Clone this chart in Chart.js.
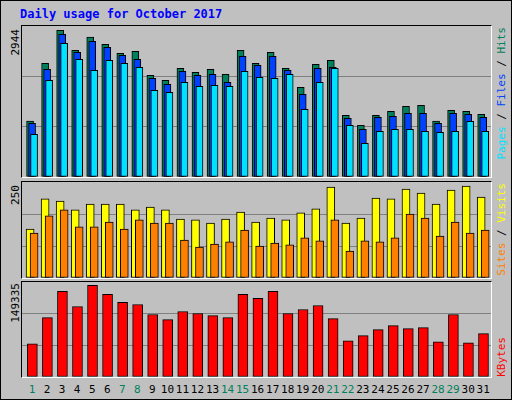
<!DOCTYPE html>
<html lang="en">
<head>
<meta charset="UTF-8">
<title>Daily usage for October 2017</title>
<style>
body { margin: 0; background: #fff; }
#frame {
    position: relative; width: 510px; height: 398px;
    background: #c0c0c0; border: 1px solid #000;
    font-family: 'DejaVu Sans Mono', monospace;
    overflow: hidden;
}
#title { position: absolute; left: 19px; top: 6px; color: #0000ff; font-weight: bold; font-size: 12px; }
.panel { position: absolute; border-top: 1px solid #000; border-left: 1px solid #000;
         border-right: 1px solid #fff; border-bottom: 1px solid #fff; box-sizing: content-box; }
.panel canvas { display: block; }
.vlab { position: absolute; writing-mode: vertical-rl; transform: rotate(180deg);
        font-size: 11px; white-space: nowrap; }
.day { position: absolute; top: 382px; font-size: 11px; transform: translateX(-50%); }
</style>
</head>
<body>
<div id="frame">
    <div id="title">Daily usage for October 2017</div>
    <div class="panel" style="left:20px;top:24px"><canvas id="c1" width="469" height="151"></canvas></div>
    <div class="panel" style="left:20px;top:180px"><canvas id="c2" width="469" height="96"></canvas></div>
    <div class="panel" style="left:20px;top:280px"><canvas id="c3" width="469" height="95"></canvas></div>
    <div class="vlab" style="left:8px;top:28px">2944</div>
    <div class="vlab" style="left:8px;top:184px">250</div>
    <div class="vlab" style="left:8px;top:282px">149335</div>
    <div class="vlab" style="left:494px;top:26px"><span style="color:#00e0ff">Pages</span> / <span style="color:#0040ff">Files</span> / <span style="color:#00805c">Hits</span></div>
    <div class="vlab" style="left:494px;top:182px"><span style="color:#ff8000">Sites</span> / <span style="color:#ffff00">Visits</span></div>
    <div class="vlab" style="left:494px;top:336px;color:#ff0000">KBytes</div>
    <div id="days"></div>
</div>
<script src="https://cdn.jsdelivr.net/npm/chart.js"></script>
<script>
// Data
const DAYS = [1,2,3,4,5,6,7,8,9,10,11,12,13,14,15,16,17,18,19,20,21,22,23,24,25,26,27,28,29,30,31];
const WEEKENDS = [1,7,8,14,15,21,22,28,29];
const HITS = [1124,2281,2944,2542,2810,2663,2482,2522,2040,1940,2181,2101,2161,2061,2542,2281,2502,2181,1800,2261,2342,1238,1037,1238,1318,1418,1438,1124,1338,1318,1258];
const FILES = [1077,2161,2863,2502,2723,2602,2442,2362,1980,1860,2121,2040,2061,1900,2422,2241,2422,2141,1659,2181,2201,1177,957,1198,1218,1278,1278,1077,1278,1258,1198];
const PAGES = [856,1940,2683,2362,2141,2342,2281,2201,1739,1699,1900,1820,1840,1820,2121,2000,1980,2061,1358,1900,2181,1037,676,917,957,957,917,896,917,1117,917];
const VISITS = [133,215,209,185,201,201,201,185,193,185,160,158,149,160,179,152,163,158,177,188,247,149,163,217,215,242,231,201,239,250,220];
const SITES = [122,169,185,139,139,152,133,158,149,149,103,84,92,98,130,87,95,90,109,101,158,73,101,98,109,174,163,114,152,122,130];
const KBYTES = [54153,96819,139485,114870,149335,134562,121434,118152,101742,93537,106665,103383,100101,96819,134562,127998,139485,103383,109947,116511,95178,59076,67281,77127,83691,78768,80409,57435,101742,55794,70563];

const shift = 0.133;
function pts(vals, off) { return DAYS.map((d, i) => ({ x: d + off, y: vals[i] })); }
function ds(vals, off, color, order, thick) {
    return { data: pts(vals, off), backgroundColor: color, borderColor: '#000', borderWidth: 1,
             borderSkipped: false, barThickness: thick, grouped: false, order: order };
}
function makeChart(id, datasets, ymax) {
    return new Chart(document.getElementById(id), {
        type: 'bar',
        data: { datasets: datasets },
        options: {
            responsive: false, animation: false,
            layout: { padding: 0 },
            plugins: { legend: { display: false }, tooltip: { enabled: false } },
            scales: {
                x: { type: 'linear', min: 0.33, max: 31.52, offset: false, display: false },
                y: { min: 0, max: ymax, ticks: { display: false, stepSize: ymax / 3 },
                     border: { display: false },
                     grid: { drawTicks: false, lineWidth: 1,
                             color: c => (c.index === 1 || c.index === 2) ? '#808080' : 'rgba(0,0,0,0)' } }
            }
        }
    });
}

const c1 = makeChart('c1', [
    ds(HITS, -shift, '#00805c', 3, 7),
    ds(FILES, 0, '#0040ff', 2, 7),
    ds(PAGES, shift, '#00e0ff', 1, 7)
], 3030);
makeChart('c2', [
    ds(VISITS, -shift, '#ffff00', 2, 8),
    ds(SITES, shift, '#ff8000', 1, 8)
], 261);
makeChart('c3', [ ds(KBYTES, 0.02, '#ff0000', 1, 10) ], 154750);

// day labels under the bottom panel
const xs = c1.scales.x;
const box = document.getElementById('days');
DAYS.forEach(d => {
    const el = document.createElement('div');
    el.className = 'day';
    el.textContent = d;
    el.style.left = (21 + xs.getPixelForValue(d)) + 'px';
    el.style.color = WEEKENDS.includes(d) ? '#00805c' : '#000';
    box.appendChild(el);
});
</script>
</body>
</html>
